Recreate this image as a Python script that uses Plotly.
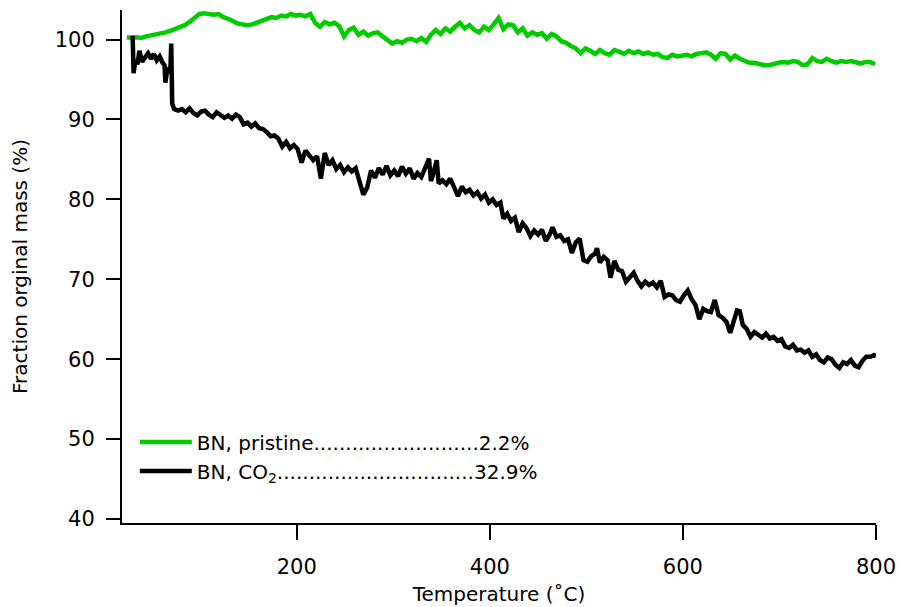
import plotly.graph_objects as go

# ---------------- data ----------------
temp_pristine = [24, 29, 34, 39, 44, 49, 54, 59, 64, 69, 74, 79, 84, 89, 94, 99, 104, 109, 114, 119,
                 124, 129, 134, 139, 144, 149, 154, 159, 164, 169, 174, 179, 184, 189, 194, 199, 204, 209, 214, 219,
                 224, 229, 234, 239, 244, 249, 254, 259, 264, 269, 274, 279, 284, 289, 294, 299, 304, 309, 314, 319,
                 324, 329, 334, 339, 344, 349, 354, 359, 364, 369, 374, 379, 384, 389, 394, 399, 404, 409, 414, 419,
                 424, 429, 434, 439, 444, 449, 454, 459, 464, 469, 474, 479, 484, 489, 494, 499, 504, 509, 514, 519,
                 524, 529, 534, 539, 544, 549, 554, 559, 564, 569, 574, 579, 584, 589, 594, 599, 604, 609, 614, 619,
                 624, 629, 634, 639, 644, 649, 654, 659, 664, 669, 674, 679, 684, 689, 694, 699, 704, 709, 714, 719,
                 724, 729, 734, 739, 744, 749, 754, 759, 764, 769, 774, 779, 784, 789, 794, 799]
mass_pristine = [100.3, 100.2, 100.3, 100.2, 100.4, 100.5, 100.6, 100.7, 100.9, 101.1, 101.3, 101.6, 101.8, 102.2, 102.7, 103.2, 103.3, 103.2, 103.1, 103.2,
                 102.8, 102.6, 102.3, 102.0, 101.9, 101.8, 101.9, 102.1, 102.3, 102.6, 102.8, 102.7, 103.0, 102.9, 103.2, 103.0, 103.1, 102.9, 103.2, 102.1,
                 101.6, 102.2, 101.9, 102.1, 101.7, 100.4, 101.2, 101.5, 100.6, 101.0, 100.5, 100.8, 100.9, 100.4, 99.9, 99.5, 99.8, 99.6, 100.0, 100.1,
                 99.8, 100.2, 99.7, 100.6, 101.2, 100.7, 101.4, 101.0, 101.6, 102.1, 101.4, 101.8, 101.2, 100.9, 101.6, 101.2, 101.9, 102.7, 101.3, 101.9,
                 101.8, 100.9, 101.4, 100.5, 100.9, 100.6, 100.8, 100.1, 100.7, 100.4, 99.8, 99.6, 99.2, 98.9, 98.3, 98.9, 98.6, 98.2, 98.7, 98.3,
                 98.1, 98.7, 98.5, 98.2, 98.6, 98.3, 98.5, 98.2, 98.4, 98.1, 98.2, 97.8, 97.7, 98.1, 97.9, 98.0, 98.1, 97.9, 98.2, 98.3,
                 98.4, 98.1, 97.6, 98.3, 98.2, 97.5, 98.0, 97.6, 97.3, 97.1, 97.1, 96.9, 96.8, 96.8, 97.0, 97.1, 97.2, 97.1, 97.3, 97.2,
                 96.8, 96.9, 97.7, 97.3, 97.2, 97.6, 97.3, 97.1, 97.3, 97.2, 97.3, 97.1, 97.0, 97.2, 97.2, 96.9]

temp_co2 = [30, 31, 33, 35, 37, 40, 43, 46, 49, 52, 55, 58, 61, 63, 64, 66, 69, 70, 71, 73,
            77, 81, 85, 89, 93, 97, 101, 105, 109, 113, 117, 121, 125, 129, 133, 137, 141, 145, 149, 153,
            157, 161, 165, 169, 173, 177, 181, 185, 189, 193, 197, 201, 205, 209, 213, 217, 221, 225, 229, 233,
            237, 241, 245, 249, 253, 257, 261, 265, 269, 273, 277, 281, 285, 289, 293, 297, 301, 305, 309, 313,
            317, 321, 325, 329, 333, 337, 339, 341, 345, 347, 351, 355, 359, 363, 367, 371, 375, 379, 383, 387,
            391, 395, 399, 403, 407, 411, 414, 418, 422, 426, 430, 434, 438, 442, 446, 450, 454, 458, 462, 465,
            469, 473, 477, 481, 485, 489, 493, 497, 501, 505, 509, 511, 514, 518, 522, 525, 529, 533, 537, 541,
            545, 549, 553, 557, 561, 565, 569, 573, 577, 581, 585, 589, 593, 597, 601, 605, 609, 613, 617, 621,
            625, 629, 633, 637, 641, 645, 649, 653, 656, 659, 662, 666, 670, 674, 678, 682, 686, 690, 694, 698,
            702, 706, 710, 714, 718, 722, 726, 730, 734, 738, 742, 746, 750, 754, 758, 762, 766, 770, 774, 778,
            782, 786, 790, 794, 798, 800]
mass_co2 = [100.5, 95.8, 97.5, 96.9, 98.6, 97.2, 97.8, 98.3, 97.6, 98.2, 97.4, 97.9, 97.1, 96.8, 94.6, 96.5, 95.8, 99.5, 92.0, 91.3,
            91.1, 91.3, 90.9, 91.4, 90.8, 90.5, 91.0, 91.1, 90.6, 90.3, 90.9, 90.6, 90.2, 90.5, 90.1, 90.6, 90.3, 89.4, 89.6, 89.1,
            89.5, 88.9, 88.8, 88.4, 87.9, 88.0, 87.6, 86.6, 87.2, 86.4, 86.8, 86.3, 84.6, 86.1, 85.6, 84.9, 85.4, 82.6, 85.8, 84.3,
            84.9, 83.8, 84.3, 83.4, 84.0, 83.5, 83.9, 82.0, 80.6, 81.5, 83.6, 82.7, 83.9, 83.1, 84.2, 83.0, 83.6, 82.9, 84.1, 83.2,
            83.9, 82.6, 83.3, 82.8, 84.0, 85.1, 82.3, 83.0, 84.9, 82.0, 82.4, 81.9, 82.6, 81.5, 80.4, 81.6, 80.9, 81.2, 80.5, 80.9,
            80.1, 80.6, 79.6, 80.0, 79.3, 79.6, 77.6, 78.2, 77.3, 77.7, 75.9, 77.0, 76.4, 75.4, 76.1, 75.6, 76.2, 74.8, 75.6, 76.5,
            75.3, 75.5, 74.8, 75.0, 73.3, 74.6, 75.1, 72.4, 72.2, 72.9, 73.2, 73.9, 72.1, 72.8, 72.4, 70.2, 72.3, 71.2, 71.0, 69.7,
            70.3, 70.8, 69.8, 69.1, 69.7, 69.3, 69.6, 69.0, 69.8, 67.8, 68.1, 68.0, 67.4, 67.2, 68.0, 68.6, 67.5, 66.8, 65.0, 66.3,
            66.0, 65.9, 67.4, 65.5, 65.2, 64.7, 63.3, 64.8, 66.1, 66.0, 64.3, 63.8, 62.8, 63.4, 63.1, 62.7, 63.2, 62.6, 62.8, 62.3,
            62.5, 61.6, 61.4, 61.8, 61.1, 61.2, 60.8, 61.1, 60.3, 60.6, 59.9, 59.6, 60.2, 60.0, 59.3, 58.9, 59.6, 59.4, 59.9, 59.2,
            59.0, 59.8, 60.3, 60.3, 60.5, 60.4]

name_pristine = "BN, pristine" + "." * 26 + "2.2%"
name_co2 = "BN, CO<sub>2</sub>" + "." * 31 + "32.9%"

x_ticks = [200, 400, 600, 800]
y_ticks = [40, 50, 60, 70, 80, 90, 100]

# ---------------- figure ----------------
FONT = "DejaVu Sans"
fig = go.Figure()
fig.add_trace(go.Scatter(x=temp_pristine, y=mass_pristine, mode="lines", name=name_pristine,
                         line=dict(color="#00CC00", width=4.5)))
fig.add_trace(go.Scatter(x=temp_co2, y=mass_co2, mode="lines", name=name_co2,
                         line=dict(color="#000000", width=4.5)))

axis_common = dict(showline=True, linecolor="black", linewidth=2, showgrid=False, zeroline=False,
                   ticks="outside", tickwidth=2, tickcolor="black", automargin=False,
                   tickfont=dict(family=FONT, size=21, color="black"))
fig.update_xaxes(range=[19, 800], tickvals=x_ticks, ticklen=15, ticklabelstandoff=9,
                 title=dict(text="Temperature (˚C)", font=dict(family=FONT, size=20, color="black"), standoff=9),
                 **axis_common)
fig.update_yaxes(range=[39.5, 103.7], tickvals=y_ticks, ticklen=14, ticklabelstandoff=7,
                 title=dict(text="Fraction orginal mass (%)", font=dict(family=FONT, size=20, color="black"), standoff=22),
                 **axis_common)

fig.update_layout(
    width=900, height=607,
    margin=dict(l=122, r=24, t=10, b=84),
    paper_bgcolor="white", plot_bgcolor="white",
    showlegend=True,
    legend=dict(x=0.017, y=0.196, xanchor="left", yanchor="top", bgcolor="rgba(0,0,0,0)",
                font=dict(family=FONT, size=20, color="black"), tracegroupgap=0, itemwidth=52),
    font=dict(family=FONT, color="black"),
)

fig.write_html("out.html")
